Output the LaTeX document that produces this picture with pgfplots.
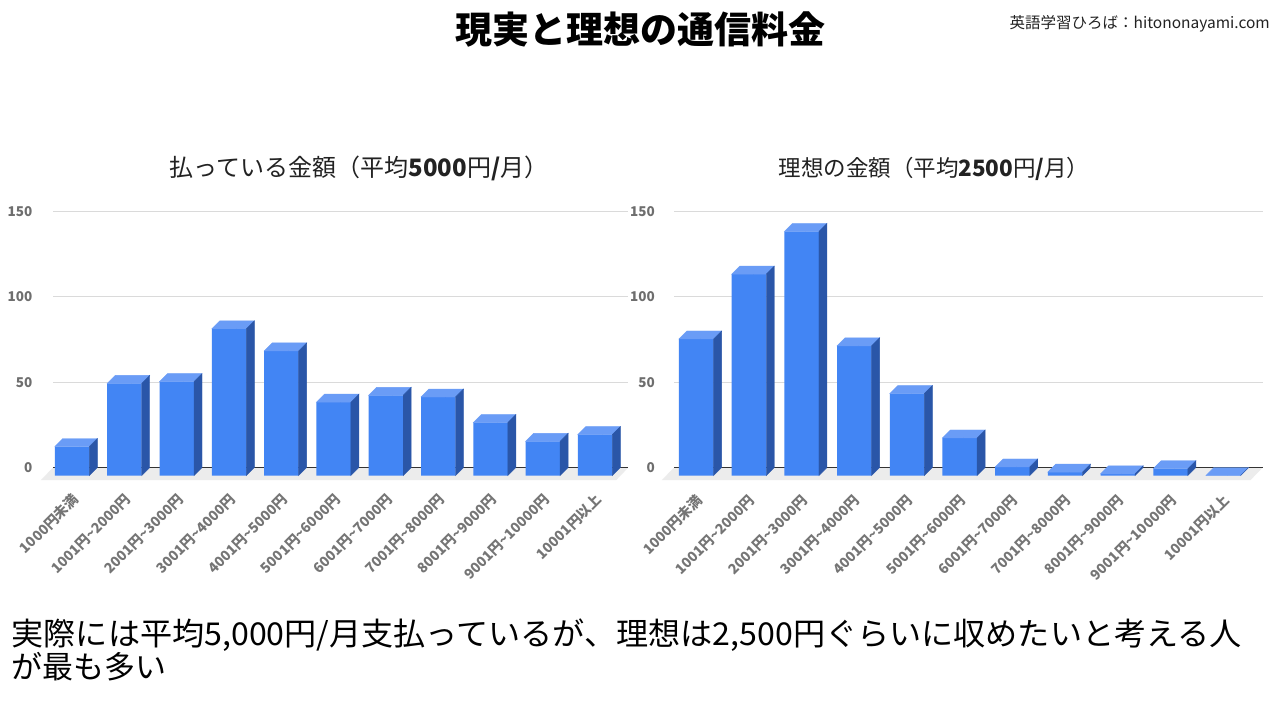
\documentclass[border=0pt]{standalone}
\usepackage{pgfplots}
\pgfplotsset{compat=1.18}
\usepackage{pgfplotstable}
\usepackage{fontspec}
\setmainfont{Noto Sans CJK JP}
\definecolor{frontc}{HTML}{4285F4}
\definecolor{sidec}{HTML}{2A56A8}
\definecolor{topc}{HTML}{6A9CF6}
\definecolor{gridc}{HTML}{DADADA}
\definecolor{floorc}{HTML}{ECECEC}
\definecolor{zeroc}{HTML}{333333}
\definecolor{tickc}{HTML}{6E6E6E}
\definecolor{catc}{HTML}{757575}
\definecolor{txtc}{HTML}{222222}

\pgfplotstableread{
x v
0 17
1 54
2 55
3 86
4 73
5 43
6 47
7 46
8 31
9 20
10 24
}\leftdata
\pgfplotstableread{
x v
0 80
1 118
2 143
3 76
4 48
5 22
6 5
7 2
8 1
9 4
10 0
}\rightdata

\pgfplotsset{
  prismaxis/.style={
    anchor=south west, scale only axis, clip=false,
    y=1.70667bp, ymin=-12, ymax=165,
    axis line style={draw=none}, major tick length=0pt,
    ytick={4.6875,54.6875,104.6875,154.6875},
    yticklabels={0,50,100,150},
    ymajorgrids, grid style={draw=gridc, line width=1bp},
    xtick={0,...,10},
    xticklabels={1000円未満,1001円\textasciitilde 2000円,2001円\textasciitilde 3000円,3001円\textasciitilde 4000円,4001円\textasciitilde 5000円,5001円\textasciitilde 6000円,6001円\textasciitilde 7000円,7001円\textasciitilde 8000円,8001円\textasciitilde 9000円,9001円\textasciitilde 10000円,10001円以上},
    yticklabel style={font=\fontsize{13.5bp}{13.5bp}\selectfont\bfseries, text=tickc, inner sep=0pt},
    xticklabel style={font=\fontsize{14bp}{14bp}\selectfont\bfseries, text=catc, inner sep=0pt},
  },
}

\begin{document}
\begin{tikzpicture}[x=1bp,y=1bp]
\fill[white] (0,0) rectangle (1280,-720);
\path[use as bounding box] (0,0) rectangle (1280,-720);

% Title and texts
\node[anchor=base, inner sep=0pt, text=black] at (640,-44) {\fontsize{37bp}{40bp}\selectfont\bfseries 現実と理想の通信料金};
\node[anchor=base east, inner sep=0pt, text=txtc] at (1270,-28.5) {\fontsize{15.5bp}{18bp}\selectfont 英語学習ひろば：hitononayami.com};
\node[anchor=base, inner sep=0pt, text=txtc] at (359,-177) {\fontsize{24bp}{26bp}\selectfont 払っている金額（平均{\bfseries 5000}円{\bfseries /}月）};
\node[anchor=base, inner sep=0pt, text=txtc] at (934,-176.5) {\fontsize{22.5bp}{25bp}\selectfont 理想の金額（平均{\bfseries 2500}円{\bfseries /}月）};
\node[anchor=base west, inner sep=0pt, text=black, xscale=1.02] at (11.5,-645.5) {\fontsize{31.5bp}{33bp}\selectfont 実際には平均5,000円/月支払っているが、理想は2,500円ぐらいに収めたいと考える人};
\node[anchor=base west, inner sep=0pt, text=black] at (11.5,-678) {\fontsize{31bp}{33bp}\selectfont が最も多い};

% Left chart
\begin{axis}[prismaxis, at={(53bp,-496bp)}, x=52.3bp, xmin=-0.5, xmax=10.5,
  yticklabel style={xshift=-20.5bp},
  xticklabel style={xshift=-3bp, yshift=-1bp, rotate=45, anchor=east}]
\fill[floorc] (-0.5,4.6875) -- (10.5,4.6875) -- (10.27,-2.64) -- (-0.73,-2.64) -- cycle;
\draw[zeroc, line width=1.3bp] (-0.5,4.6875) -- (10.5,4.6875);
\addplot[ybar, bar width=34.5bp, bar shift=-7bp, fill=frontc, draw=none] table[x=x,y=v]{\leftdata};
\addplot[scatter, only marks, mark=*, mark size=0pt, mark options={draw=none,fill=none},
  visualization depends on={rawy \as \ry},
  scatter/@pre marker code/.code={%
    \pgfmathsetlengthmacro\hh{\ry*1.70667bp}%
    \fill[topc] (-24.25bp,0pt) -- (-16.25bp,8bp) -- (18.25bp,8bp) -- (10.25bp,0pt) -- cycle;
    \fill[sidec] (10.25bp,0pt) -- (18.25bp,8bp) -- (18.25bp,{8bp-\hh}) -- (10.25bp,{-\hh}) -- cycle;
  },
  scatter/@post marker code/.code={}
] table[x=x,y=v]{\leftdata};
\end{axis}

% Right chart
\begin{axis}[prismaxis, at={(674bp,-496bp)}, x=52.7bp, xmin=-0.5, xmax=10.67,
  yticklabel style={xshift=-19bp},
  xticklabel style={xshift=-1bp, yshift=-2bp, rotate=45, anchor=east}]
\fill[floorc] (-0.5,4.6875) -- (10.67,4.6875) -- (10.44,-2.64) -- (-0.73,-2.64) -- cycle;
\draw[zeroc, line width=1.3bp] (-0.5,4.6875) -- (10.67,4.6875);
\addplot[ybar, bar width=34.6bp, bar shift=-4.1bp, fill=frontc, draw=none] table[x=x,y=v]{\rightdata};
\addplot[scatter, only marks, mark=*, mark size=0pt, mark options={draw=none,fill=none},
  visualization depends on={rawy \as \ry},
  scatter/@pre marker code/.code={%
    \pgfmathsetlengthmacro\hh{\ry*1.70667bp}%
    \fill[topc] (-21.4bp,0pt) -- (-13.4bp,8bp) -- (21.2bp,8bp) -- (13.2bp,0pt) -- cycle;
    \fill[sidec] (13.2bp,0pt) -- (21.2bp,8bp) -- (21.2bp,{8bp-\hh}) -- (13.2bp,{-\hh}) -- cycle;
  },
  scatter/@post marker code/.code={}
] table[x=x,y=v]{\rightdata};
\end{axis}
\end{tikzpicture}
\end{document}
